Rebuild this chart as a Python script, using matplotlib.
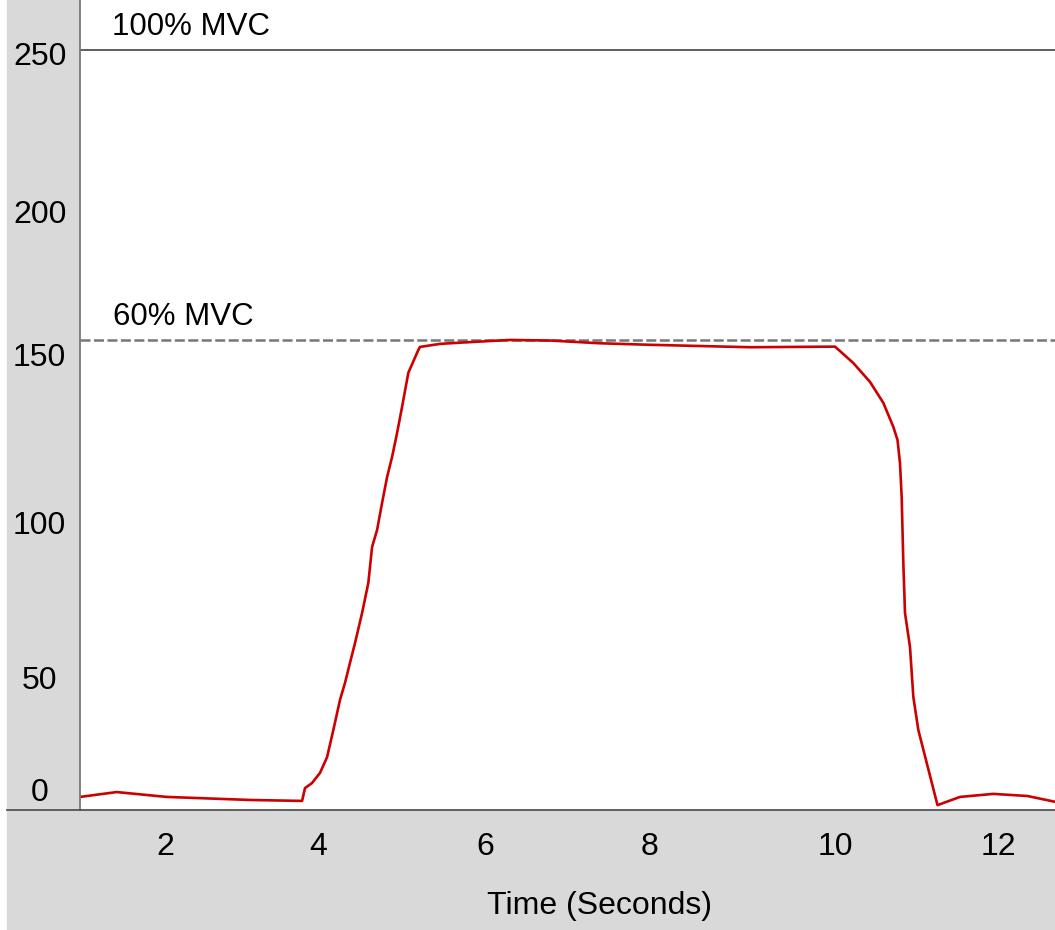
import numpy as np
import matplotlib
matplotlib.use("Agg")
import matplotlib.pyplot as plt
from matplotlib.patches import Rectangle
from matplotlib.lines import Line2D

# data (time in seconds, force)
time = [0.98, 1.42, 2.02, 2.42, 3.02, 3.62, 3.645, 3.68, 3.765, 3.86, 3.945,
        4.02, 4.10, 4.16, 4.22, 4.28, 4.365, 4.44, 4.485, 4.545, 4.605, 4.665,
        4.725, 4.785, 4.845, 4.92, 5.04, 5.06, 5.30, 5.54, 6.14, 6.62, 7.22,
        7.82, 8.42, 9.02, 10.04, 10.26, 10.46, 10.62, 10.74, 10.79, 10.82,
        10.84, 10.86, 10.88, 10.94, 10.98, 11.04, 11.27, 11.54, 11.94, 12.35,
        12.68]
force = [4.3, 5.9, 4.3, 3.9, 3.3, 3.0, 3.0, 7.2, 8.9, 12.2, 17.4,
         26.3, 36.2, 41.8, 48.4, 54.9, 64.8, 74.7, 86.5, 92.1, 101.0, 109.5,
         116.1, 124.0, 132.6, 143.8, 151.3, 152.3, 153.3, 153.7, 154.6, 154.4, 153.5,
         153.0, 152.6, 152.2, 152.4, 147.0, 140.8, 133.9, 126.0, 121.7, 114.1,
         103.0, 81.2, 64.8, 53.6, 37.2, 26.3, 1.6, 4.3, 5.3, 4.6,
         2.7]

mvc100 = 250
mvc60 = 154.6

xtick_pos = [2.0, 3.84, 5.84, 7.82, 10.04, 12.0]
xtick_lab = ["2", "4", "6", "8", "10", "12"]
ytick_pos = [6.6, 43.7, 94.7, 149.7, 196.7, 248.8]
ytick_lab = ["0", "50", "100", "150", "200", "250"]

plt.rcParams['font.family'] = ['Liberation Sans', 'DejaVu Sans']
plt.rcParams['lines.scale_dashes'] = False

W, H = 1055, 930
fig = plt.figure(figsize=(W / 100, H / 100), dpi=100)
fig.patch.set_facecolor('white')
fig.patches.append(Rectangle((7 / W, 0), 1 - 7 / W, 1, transform=fig.transFigure,
                             color='#d9d9d9', zorder=-5))

ax = fig.add_axes([80 / W, 120 / H, 975 / W, 810 / H])
ax.set_zorder(1)
ax.set_facecolor('white')
ax.set_xlim(0.98, 12.68)
ax.set_ylim(0, 266.4)

ax.axhline(mvc100, color='#333333', lw=1.1)
ax.axhline(mvc60, color='#777777', lw=1.8, dashes=(7.2, 2.5))
ax.plot(time, force, color='#cc0000', lw=1.9)

ax.text(1.36, mvc100 + 2.5, "100% MVC", fontsize=22.5, ha='left', va='bottom')
ax.text(1.37, mvc60 + 2.5, "60% MVC", fontsize=22.5, ha='left', va='bottom')

ax.set_xticks(xtick_pos)
ax.set_xticklabels(xtick_lab)
ax.set_yticks(ytick_pos)
ax.set_yticklabels(ytick_lab, ha='center')
ax.tick_params(axis='x', length=0, pad=16, labelsize=23)
ax.tick_params(axis='y', length=0, pad=29, labelsize=23)

ax.set_xlabel("Time (Seconds)", fontsize=23)
ax.xaxis.set_label_coords(0.533, -0.100)

for s in ['top', 'right']:
    ax.spines[s].set_visible(False)
ax.spines['left'].set_color('#777777')
ax.spines['left'].set_linewidth(1.3)
ax.spines['bottom'].set_color('#555555')
ax.spines['bottom'].set_linewidth(1.3)

fig.lines.append(Line2D([7 / W, 80 / W], [120 / H, 120 / H], transform=fig.transFigure,
                        color='#555555', lw=1.3, zorder=5))

fig.savefig('out.png', dpi=100)
